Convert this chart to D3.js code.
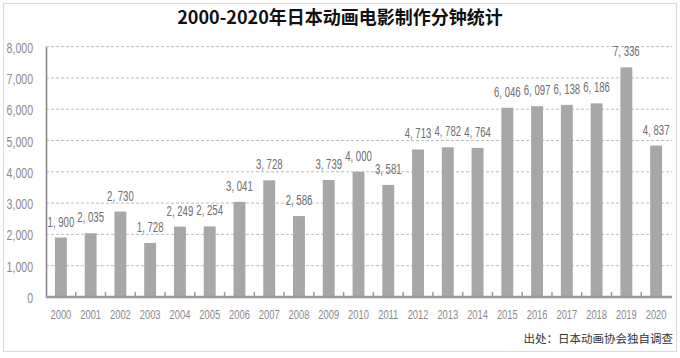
<!DOCTYPE html>
<html><head><meta charset="utf-8">
<script src="https://cdn.jsdelivr.net/npm/d3@7"></script>
<style>
html,body{margin:0;padding:0;background:#fff;}
svg{display:block;}
</style></head>
<body>
<svg id="chart" width="680" height="358"></svg>
<script>
const years = ["2000","2001","2002","2003","2004","2005","2006","2007","2008","2009","2010","2011","2012","2013","2014","2015","2016","2017","2018","2019","2020"];
const minutes = [1900,2035,2730,1728,2249,2254,3041,3728,2586,3739,4000,3581,4713,4782,4764,6046,6097,6138,6186,7336,4837];
const yTicks = [0,1000,2000,3000,4000,5000,6000,7000,8000];
const title = "2000-2020年日本动画电影制作分钟统计";
const source = "出处：日本动画协会独自调查";

const svg = d3.select("#chart");
const numFont = "'Liberation Sans','Arial',sans-serif";
const cjkFont = "'Noto Sans CJK SC','Noto Sans',sans-serif";

svg.append("rect").attr("x",3.5).attr("y",3.5).attr("width",673).attr("height",348)
  .attr("fill","#fff").attr("stroke","#dcdcdc").attr("stroke-width",1.2);

svg.append("text").attr("x",340).attr("y",24).attr("text-anchor","middle")
  .attr("font-family",cjkFont).attr("font-weight","bold").attr("font-size",18)
  .attr("fill","#111").text(title);

const x = d3.scaleBand().domain(years).range([46,671]).paddingInner(0.6).paddingOuter(0.3);
const y = d3.scaleLinear().domain([0,8000]).range([297,46.6]);

const fmt = v => d3.format(",")(v).replace(",", ", ");

// grid
svg.append("g").selectAll("line").data(yTicks.filter(d=>d>0)).join("line")
  .attr("x1",46).attr("x2",672).attr("y1",d=>y(d)).attr("y2",d=>y(d))
  .attr("stroke","#bdbdbd").attr("stroke-width",1).attr("stroke-dasharray","3,2");

// y axis
const yAxis = d3.axisLeft(y).tickValues(yTicks).tickSize(0)
  .tickFormat(d => d===0 ? "0" : d3.format(",")(d));
const gy = svg.append("g").attr("transform","translate(46,0)").call(yAxis);
gy.select(".domain").attr("stroke","#888").attr("stroke-width",1.6);
gy.selectAll("text").attr("x",0).attr("dy",null)
  .attr("transform","translate(-13,5.5) scale(0.68,1)")
  .attr("font-family",numFont).attr("font-size",15.5).attr("fill","#8a8a8a");

// bars
svg.append("g").selectAll("rect").data(minutes).join("rect")
  .attr("x",(d,i)=>x(years[i])).attr("width",x.bandwidth())
  .attr("y",d=>y(d)).attr("height",d=>y(0)-y(d)).attr("fill","#a7a7a7");

// value labels
svg.append("g").selectAll("text").data(minutes).join("text")
  .attr("transform",(d,i)=>`translate(${x(years[i])+x.bandwidth()/2},${y(d)-11}) scale(0.62,1)`)
  .attr("text-anchor","middle").attr("font-family",numFont).attr("font-size",15.5)
  .attr("fill","#6e6e6e").text(d=>fmt(d));

// x axis
const xAxis = d3.axisBottom(x).tickSize(0);
const gx = svg.append("g").attr("transform","translate(0,297)").call(xAxis);
gx.select(".domain").remove();
gx.selectAll("text").attr("y",0).attr("dy",null)
  .attr("transform","translate(0,22) scale(0.72,1)")
  .attr("font-family",numFont).attr("font-size",13).attr("fill","#8a8a8a");
svg.append("line").attr("x1",46).attr("x2",672).attr("y1",297).attr("y2",297)
  .attr("stroke","#999").attr("stroke-width",2.5);
// small ticks between bars
svg.append("g").selectAll("line").data(years.slice(0,-1)).join("line")
  .attr("x1",d=>x(d)+x.bandwidth()+x.step()*0.3).attr("x2",d=>x(d)+x.bandwidth()+x.step()*0.3)
  .attr("y1",297).attr("y2",292).attr("stroke","#999").attr("stroke-width",1.5);

svg.append("text").attr("x",673).attr("y",343).attr("text-anchor","end")
  .attr("font-family",cjkFont).attr("font-size",11.5).attr("fill","#333").text(source);
</script>
</body></html>
